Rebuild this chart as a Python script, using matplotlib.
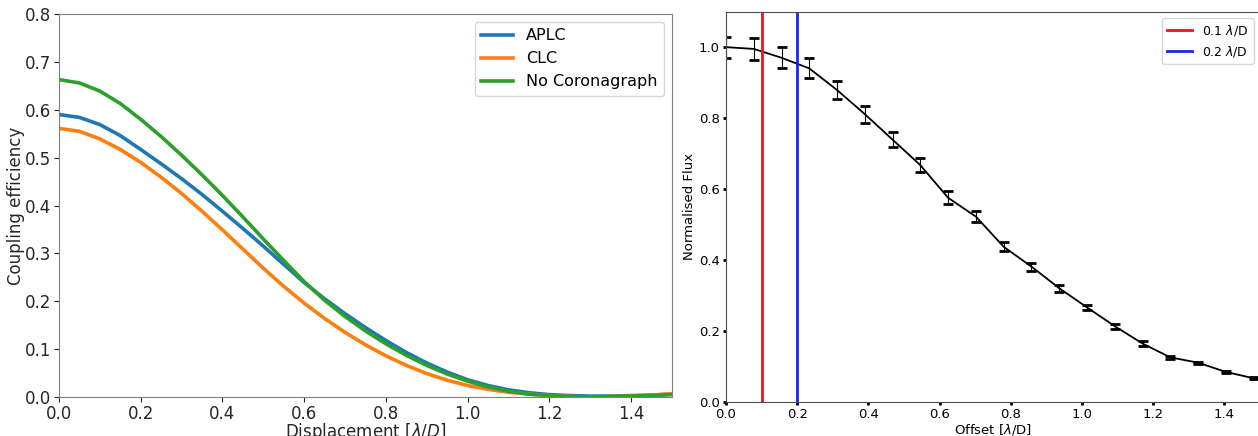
import numpy as np
import matplotlib
matplotlib.use('Agg')
import matplotlib.pyplot as plt

# left panel: coupling efficiency vs displacement
disp = [0.00, 0.05, 0.10, 0.15, 0.20, 0.25, 0.30, 0.35, 0.40, 0.45, 0.50,
        0.55, 0.60, 0.65, 0.70, 0.75, 0.80, 0.85, 0.90, 0.95, 1.00,
        1.05, 1.10, 1.15, 1.20, 1.25, 1.30, 1.35, 1.40, 1.45, 1.50]
aplc = [0.590, 0.584, 0.569, 0.546, 0.517, 0.487, 0.456, 0.423, 0.388, 0.352, 0.315,
        0.277, 0.239, 0.205, 0.174, 0.145, 0.118, 0.093, 0.071, 0.052, 0.036,
        0.024, 0.015, 0.009, 0.005, 0.003, 0.002, 0.002, 0.003, 0.004, 0.006]
clc = [0.561, 0.555, 0.539, 0.517, 0.490, 0.459, 0.425, 0.388, 0.349, 0.309, 0.269,
       0.231, 0.196, 0.164, 0.135, 0.109, 0.086, 0.066, 0.049, 0.035, 0.024,
       0.016, 0.010, 0.006, 0.003, 0.001, 0.000, 0.001, 0.002, 0.004, 0.007]
nocoro = [0.663, 0.656, 0.639, 0.613, 0.580, 0.544, 0.505, 0.464, 0.421, 0.376, 0.330,
          0.285, 0.241, 0.202, 0.168, 0.138, 0.111, 0.087, 0.066, 0.048, 0.033,
          0.021, 0.012, 0.006, 0.003, 0.001, 0.000, 0.001, 0.002, 0.003, 0.005]

# right panel: normalised flux vs offset
offset = [0.000, 0.078, 0.156, 0.234, 0.312, 0.390, 0.468, 0.546, 0.624, 0.702,
          0.780, 0.858, 0.936, 1.014, 1.092, 1.170, 1.248, 1.326, 1.404, 1.482]
flux = [1.000, 0.995, 0.970, 0.940, 0.879, 0.811, 0.739, 0.667, 0.575, 0.522,
        0.437, 0.381, 0.320, 0.266, 0.213, 0.164, 0.125, 0.110, 0.084, 0.066]
flux_err = [0.030, 0.031, 0.030, 0.028, 0.026, 0.024, 0.022, 0.020, 0.018, 0.016,
            0.013, 0.011, 0.010, 0.008, 0.007, 0.006, 0.004, 0.003, 0.003, 0.003]
vlines = [0.1, 0.2]
vline_labels = [r'0.1 $\lambda$/D', r'0.2 $\lambda$/D']

fig = plt.figure(figsize=(12.58, 4.36), dpi=100)

ax1 = fig.add_axes([0.0469, 0.0894, 0.4873, 0.8785])
ax1.plot(disp, aplc, color='#1f77b4', lw=2.6, label='APLC')
ax1.plot(disp, clc, color='#ff7f0e', lw=2.6, label='CLC')
ax1.plot(disp, nocoro, color='#2ca02c', lw=2.6, label='No Coronagraph')
ax1.set_xlim(0, 1.5)
ax1.set_ylim(0, 0.8)
ax1.set_xticks(np.arange(0, 1.41, 0.2))
ax1.set_yticks(np.arange(0, 0.81, 0.1))
ax1.tick_params(labelsize=12, colors='0.15', pad=2)
ax1.set_xlabel(r'Displacement [$\lambda/D$]', fontsize=12, labelpad=-1, color='0.15')
ax1.set_ylabel('Coupling efficiency', fontsize=12, labelpad=0, color='0.15')
for s in ax1.spines.values():
    s.set_color('0.5')
ax1.legend(loc='upper right', fontsize=11.5)

ax2 = fig.add_axes([0.5771, 0.0787, 0.4245, 0.8945])
ax2.plot(offset, flux, color='black', lw=1.3)
ax2.errorbar(offset, flux, yerr=flux_err, fmt='none', ecolor='black',
             elinewidth=0.8, capsize=3.5, capthick=2)
for xv, c, lab in zip(vlines, ['#e8141e', '#1428e6'], vline_labels):
    ax2.axvline(xv, color=c, lw=2, label=lab)
ax2.set_xlim(0, 1.5)
ax2.set_ylim(0, 1.1)
ax2.set_xticks(np.arange(0, 1.41, 0.2))
ax2.set_yticks(np.arange(0, 1.01, 0.2))
ax2.tick_params(labelsize=9.5, length=2.5, width=2, pad=2)
ax2.set_xlabel(r'Offset [$\lambda$/D]', fontsize=9.5, labelpad=1)
ax2.set_ylabel('Normalised Flux', fontsize=9.5, labelpad=2)
for s in ax2.spines.values():
    s.set_color('0.3')
ax2.legend(loc='upper right', fontsize=9)

fig.savefig('out.png', dpi=100)
